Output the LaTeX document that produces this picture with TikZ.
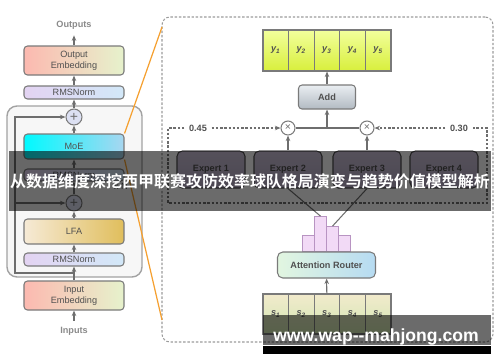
\documentclass[tikz,border=0pt]{standalone}
\usepackage{fontspec}
\setmainfont{Liberation Sans}
\newfontfamily\cjkfont{Noto Sans CJK SC Bold}
\usepackage{tikz}
\usetikzlibrary{positioning,arrows.meta,calc}
\usepackage{xcolor}
\definecolor{linegray}{HTML}{6E6E6E}
\definecolor{boxgray}{HTML}{7A7A7A}
\definecolor{textgray}{HTML}{505050}
\definecolor{iogray}{HTML}{8A8A8A}
\definecolor{embleft}{HTML}{FCB9B0}
\definecolor{embright}{HTML}{E6F2CC}
\definecolor{normleft}{HTML}{E3D3F2}
\definecolor{normright}{HTML}{D2E8F8}
\definecolor{moeleft}{HTML}{00FAFF}
\definecolor{moeright}{HTML}{A8D6F0}
\definecolor{lfaleft}{HTML}{F6EAD6}
\definecolor{lfaright}{HTML}{E0BE5C}
\definecolor{plusfill}{HTML}{DCE0F2}
\definecolor{layerfill}{HTML}{F7F7F7}
\definecolor{ytop}{HTML}{F2FF9C}
\definecolor{ybottom}{HTML}{D8EF3C}
\definecolor{addtop}{HTML}{EAEEF2}
\definecolor{addbottom}{HTML}{B2BAC2}
\definecolor{experttop}{HTML}{CCC2D8}
\definecolor{expertbottom}{HTML}{B6AAC6}
\definecolor{barfill}{HTML}{F2DAF6}
\definecolor{barline}{HTML}{B894C2}
\definecolor{routerleft}{HTML}{E2F6E0}
\definecolor{routerright}{HTML}{B6DBF2}
\definecolor{stop}{HTML}{F2EACC}
\definecolor{sbottom}{HTML}{D2E8B2}
\definecolor{zoomorange}{HTML}{F5A030}
\newcommand{\diagfont}{\fontsize{5.2}{6.2}\selectfont}

\begin{document}
\begin{tikzpicture}[x=0.2mm, y=-0.2mm,
    box/.style={draw=boxgray, line width=0.6pt, rounded corners=2pt, left color=#1left, right color=#1right, minimum width=20mm, align=center, font=\diagfont, text=textgray, inner sep=1pt},
    plus/.style={circle, draw=boxgray, line width=0.6pt, fill=plusfill, minimum size=3.2mm, inner sep=0pt, font=\fontsize{8}{8}\selectfont, text=linegray},
    mult/.style={circle, draw=boxgray, line width=0.6pt, fill=white, minimum size=2.8mm, inner sep=0pt, font=\fontsize{6}{6}\selectfont, text=linegray},
    io/.style={font=\diagfont\bfseries, text=iogray},
    cell/.style={draw=boxgray, line width=0.6pt, top color=#1top, bottom color=#1bottom, minimum width=5.12mm, inner sep=0pt, font=\diagfont\bfseries\itshape, text=textgray},
    expert/.style={draw=textgray, line width=0.6pt, rounded corners=3pt, top color=experttop, bottom color=expertbottom, minimum width=13.6mm, minimum height=7.4mm, font=\diagfont\bfseries, text=textgray},
    bar/.style={draw=barline, line width=0.5pt, fill=barfill, minimum width=2.4mm, inner sep=0pt},
    wlbl/.style={font=\diagfont\bfseries, text=textgray, inner sep=2.5pt},
    arrow/.style={-{Stealth[length=1.1mm,width=0.9mm]}, draw=linegray, line width=0.6pt},
    line/.style={draw=linegray, line width=0.6pt},
    dashline/.style={draw=linegray, line width=0.6pt, dash pattern=on 1.4pt off 1pt},
    zoomline/.style={draw=zoomorange, line width=0.7pt},
    shade/.style={fill=black, fill opacity=0.58, text opacity=1, text=white, inner sep=0pt},
]
\useasboundingbox (0,0) rectangle (500,362);

% Decoder layer (repeated)
\node[draw=boxgray!70, line width=0.8pt, fill=layerfill, rounded corners=2mm, minimum width=27mm, minimum height=34.2mm] (layer) at (74.5,191.5) {};
\node[font=\diagfont, text=textgray] (repeat) at (121,186) {x N};

\node[io] (outputs) at (74,25) {Outputs};
\node[box=emb, minimum height=5.8mm] (outemb) at (74,60.5) {Output\\Embedding};
\node[box=norm, minimum height=2.6mm] (rms1) at (74,92.5) {RMSNorm};
\node[plus] (plus1) at (74,117) {+};
\node[box=moe, minimum height=5mm] (moe) at (74,146.5) {MoE};
\node[box=norm, minimum height=2.4mm] (rms2) at (74,175) {RMSNorm};
\node[plus] (plus2) at (74,203) {+};
\node[box=lfa, minimum height=5mm] (lfa) at (74,231.5) {LFA};
\node[box=norm, minimum height=2.6mm] (rms3) at (74,259.5) {RMSNorm};
\node[box=emb, minimum height=5.8mm] (inemb) at (74,295.5) {Input\\Embedding};
\node[io] (inputs) at (74,331) {Inputs};

\draw[arrow] (outemb) -- (outputs);
\draw[arrow] (rms1) -- (outemb);
\draw[arrow] (plus1) -- (rms1);
\draw[arrow] (moe) -- (plus1);
\draw[arrow] (rms2) -- (moe);
\draw[arrow] (plus2) -- (rms2);
\draw[arrow] (lfa) -- (plus2);
\draw[arrow] (rms3) -- (lfa);
\draw[arrow] (inemb) -- (rms3);
\draw[arrow] (inputs) -- (inemb);

% Residual connections
\coordinate (resin) at (74,273);
\coordinate (resleft) at (15,273);
\draw[arrow] (resin) -- (resleft) |- (plus1);
\draw[arrow] (resleft |- plus2) -- (plus2);

% MoE detail panel
\node[draw=boxgray!75, line width=0.6pt, dash pattern=on 1.4pt off 1pt, rounded corners=1.6mm, minimum width=66.2mm, minimum height=65mm] (panel) at (327.5,179.5) {};
\coordinate (zoomtop) at (162,27);
\coordinate (zoombot) at (162,320);
\draw[zoomline] (moe.north east) -- (zoomtop);
\draw[zoomline] (moe.south east) -- (zoombot);

\foreach \i in {1,...,5}
    \node[cell=y, minimum height=8.2mm] (y\i) at ({250.2+25.6*\i},50.5) {y\textsubscript{\i}};
\node[draw=boxgray, line width=0.6pt, rounded corners=2pt, top color=addtop, bottom color=addbottom, minimum width=11.4mm, minimum height=4.8mm, font=\diagfont\bfseries, text=textgray] (add) at (327,97) {Add};
\draw[arrow] (add) -- (y3);

\node[mult] (mul1) at (288,128) {×};
\node[mult] (mul2) at (367,128) {×};
\coordinate (join) at (add |- mul1);
\draw[line] (mul1) -- (mul2);
\draw[arrow] (join) -- (add);

% Gate weights
\node[wlbl] (w1) at (198,128) {0.45};
\node[wlbl] (w2) at (459,128) {0.30};
\coordinate (grpnw) at (168,128);
\coordinate (grpse) at (487,203);
\draw[dashline] (w1.west) -- (grpnw) -- (grpnw |- grpse) -- (grpse) -- (grpse |- grpnw) -- (w2.east);
\draw[dashline, arrow] (w1) -- (mul1);
\draw[dashline, arrow] (w2) -- (mul2);

\foreach \i/\x in {1/211,2/288,3/367,4/444}
    \node[expert] (expert\i) at (\x,169.5) {Expert \i};
\draw[arrow] (expert2) -- (mul1);
\draw[arrow] (expert3) -- (mul2);

% Router scores
\foreach \i/\h in {1/16,2/35,3/25,4/16}
    \node[bar, minimum height=\h*0.2mm, anchor=south] (bar\i) at ({296.5+12*\i},252) {};
\node[box=router, minimum width=19.6mm, minimum height=5.2mm, rounded corners=3pt, font=\diagfont\bfseries] (router) at (326.5,265) {Attention Router};
\draw[line] (expert2.south) -- (bar2.north);
\draw[line] (expert3.south) -- (bar3.north);

\foreach \i in {1,...,5}
    \node[cell=s, minimum height=8mm] (s\i) at ({250.2+25.6*\i},314) {s\textsubscript{\i}};
\draw[arrow] (s3) -- (router);

% Overlays
\node[shade, minimum width=96.4mm, minimum height=12mm, font=\cjkfont\fontsize{9.1}{10}\selectfont] (title) at (250,181) {从数据维度深挖西甲联赛攻防效率球队格局演变与趋势价值模型解析};
\node[shade, minimum width=45.6mm, minimum height=6mm] (mark) at (377,330) {};
\node[fill=black, minimum width=45.6mm, minimum height=1.6mm, inner sep=0pt, anchor=north] (markbase) at (mark.south) {};
\node[text=white, font=\bfseries\fontsize{10}{12}\selectfont] (marktext) at (376,337) {www.wap-\kern0pt-mahjong.com};
\end{tikzpicture}
\end{document}
